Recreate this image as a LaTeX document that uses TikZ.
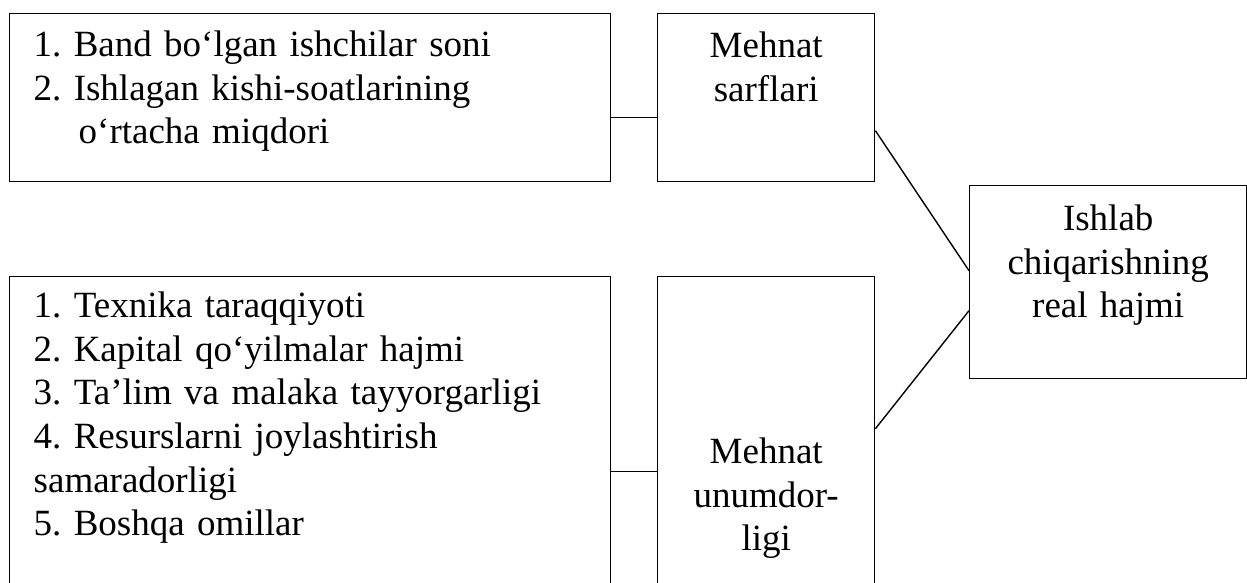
\documentclass[tikz,border=0pt]{standalone}
\usepackage{fontspec}
\setmainfont{Liberation Serif}
\frenchspacing

\begin{document}
\begin{tikzpicture}[x=0.5pt, y=-0.5pt,
    box/.style={draw, line width=0.7pt, inner sep=0pt, anchor=north west,
        font=\fontsize{18.5pt}{21.8pt}\selectfont},
    listbox/.style={box, inner xsep=12pt, text width=276.5pt, align=left},
    midbox/.style={box, text width=108.5pt, align=center},
    link/.style={line width=0.7pt}]
    \fill[white] (0,0) rectangle (1247,583);
    \useasboundingbox (0,0) rectangle (1247,583);
    \clip (0,0) rectangle (1247,583);
    % factor lists
    \node[listbox, text height=21.5pt, text depth=62.5pt] (band) at (9,13)
        {1. Band bo‘lgan ishchilar soni\\
         2. Ishlagan kishi-soatlarining\\
         \hspace*{22.5pt}o‘rtacha miqdori};
    \node[listbox, text height=20.5pt, text depth=201.5pt] (texn) at (9,276)
        {1. Texnika taraqqiyoti\\
         2. Kapital qo‘yilmalar hajmi\\
         3. Ta’lim va malaka tayyorgarligi\\
         4. Resurslarni joylashtirish\\
         samaradorligi\\
         5. Boshqa omillar};
    % middle column
    \node[midbox, text height=22pt, text depth=62pt] (sarf) at (657,13)
        {Mehnat\\sarflari};
    \node[midbox, text height=93.5pt, text depth=128.5pt] (unum) at (657,276)
        {Mehnat\\unumdor-\\ligi};
    % result
    \node[box, text width=138.5pt, align=center, text height=22.5pt, text depth=74pt]
        (real) at (969,185) {Ishlab\\chiqarishning\\real hajmi};
    \draw[link] ([yshift=-10pt]band.east) -- ([yshift=-10pt]sarf.west);
    \draw[link] ([yshift=13.5pt]texn.east) -- ([yshift=13.5pt]unum.west);
    \draw[link] ([yshift=-16.5pt]sarf.east) -- ([yshift=5.75pt]real.west);
    \draw[link] ([yshift=35pt]unum.east) -- ([yshift=-14.25pt]real.west);
\end{tikzpicture}
\end{document}
